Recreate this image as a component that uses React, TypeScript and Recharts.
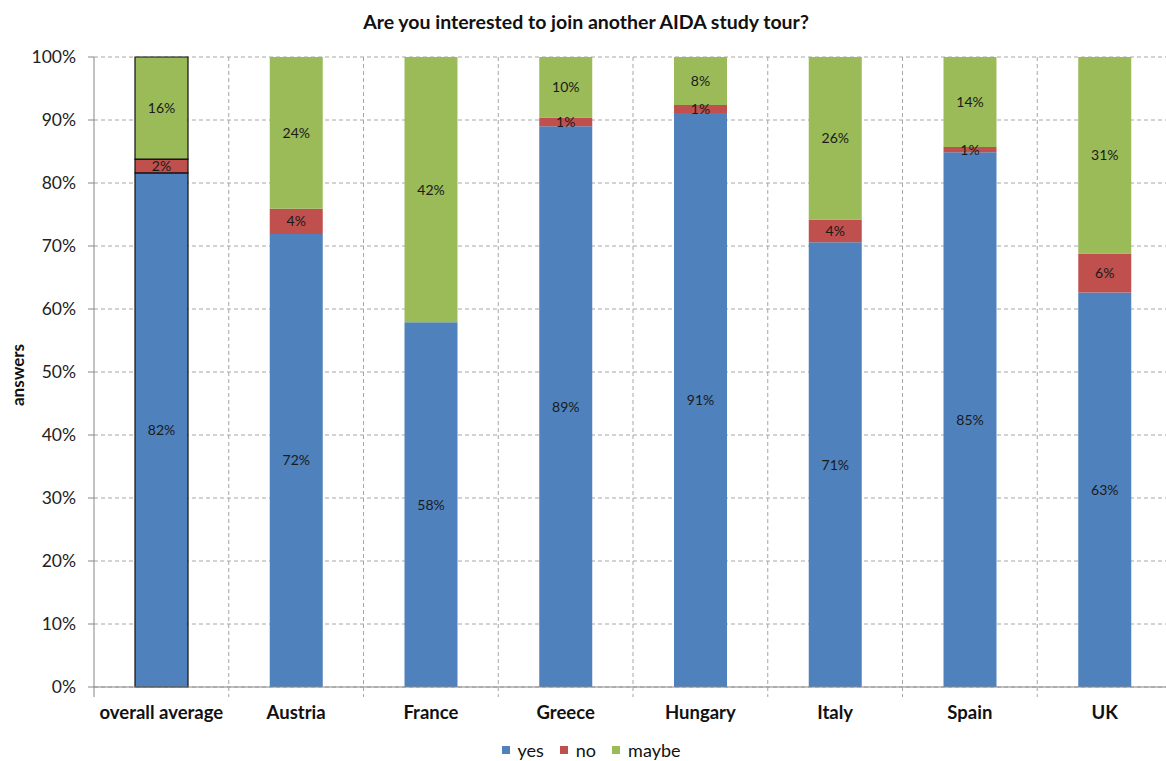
import { Bar, BarChart, CartesianGrid, Cell, LabelList, XAxis, YAxis } from 'recharts';

const categories = ['overall average', 'Austria', 'France', 'Greece', 'Hungary', 'Italy', 'Spain', 'UK'];
const yesValues = [81.6, 71.9, 57.9, 89.0, 91.1, 70.6, 84.9, 62.6];
const noValues = [2.2, 4.0, 0, 1.4, 1.3, 3.6, 0.8, 6.2];
const maybeValues = [16.2, 24.1, 42.1, 9.6, 7.6, 25.8, 14.3, 31.2];
const yTicks = [0, 10, 20, 30, 40, 50, 60, 70, 80, 90, 100];

const series = [
  { key: 'yes', color: '#4F81BD' },
  { key: 'no', color: '#C0504D' },
  { key: 'maybe', color: '#9BBB59' },
];

const data = categories.map((name, i) => ({
  name,
  yes: yesValues[i],
  no: noValues[i],
  maybe: maybeValues[i],
}));

const FONT = 'Lato, "Open Sans", sans-serif';
const AXIS = '#868686';
const GRID = '#A6A6A6';

const pct = (v: unknown) => {
  const n = Number(v);
  return n > 0 ? `${Math.round(n)}%` : '';
};

// category tick: bold label + boundary tick marks between bands
function XTick(props: any) {
  const { x, y, payload, index } = props;
  const step = (1172 - 94) / categories.length;
  return (
    <g>
      <line x1={x - step / 2} x2={x - step / 2} y1={y} y2={y + 10} stroke={index === 0 ? AXIS : GRID} strokeDasharray={index === 0 ? undefined : '4 3'} />
      {index === categories.length - 1 && (
        <line x1={x + step / 2} x2={x + step / 2} y1={y} y2={y + 10} stroke={GRID} strokeDasharray="4 3" />
      )}
      <text x={x} y={y + 32} textAnchor="middle" fontFamily={FONT} fontWeight={700} fontSize={18.5} fill="#111">
        {payload.value}
      </text>
    </g>
  );
}

export default function App() {
  return (
    <div style={{ position: 'absolute', left: 0, top: 0, width: 1166, height: 761, overflow: 'hidden', background: '#fff', fontFamily: FONT }}>
      <div style={{ position: 'absolute', left: 0, width: 1172, top: 10, textAlign: 'center', fontSize: 19.5, fontWeight: 700, color: '#111' }}>
        Are you interested to join another AIDA study tour?
      </div>
      <div
        style={{
          position: 'absolute',
          left: 17,
          top: 375,
          transform: 'translate(-50%, -50%) rotate(-90deg)',
          fontSize: 17,
          fontWeight: 700,
          color: '#111',
        }}
      >
        answers
      </div>
      <BarChart width={1180} height={761} data={data} margin={{ top: 57, right: 8, left: 34, bottom: 34 }} barSize={53}>
        <CartesianGrid
          stroke={GRID}
          strokeDasharray="4 3"
          verticalCoordinatesGenerator={(p: any) => {
            const o = p.offset;
            return categories.map((_, i) => o.left + ((i + 1) * o.width) / categories.length);
          }}
        />
        <XAxis
          dataKey="name"
          type="category"
          height={40}
          tickSize={0}
          tickMargin={0}
          tickLine={false}
          axisLine={{ stroke: AXIS }}
          tick={<XTick />}
          interval={0}
        />
        <YAxis
          type="number"
          width={60}
          domain={[0, 100]}
          ticks={yTicks}
          interval={0}
          tickFormatter={(v: number) => `${v}%`}
          tickSize={6}
          tickMargin={12}
          axisLine={{ stroke: AXIS }}
          tickLine={{ stroke: AXIS }}
          tick={{ fontSize: 17.5, fill: '#222', fontFamily: FONT }}
        />
        {series.map((s) => (
          <Bar key={s.key} dataKey={s.key} stackId="a" fill={s.color} isAnimationActive={false}>
            {data.map((d, i) => (
              <Cell key={d.name} fill={s.color} stroke={i === 0 ? '#111' : 'none'} strokeWidth={i === 0 ? 1.2 : 0} />
            ))}
            <LabelList dataKey={s.key} position="center" formatter={pct} fill="#1a1a1a" fontSize={14} fontFamily={FONT} />
          </Bar>
        ))}
      </BarChart>
      <div style={{ position: 'absolute', top: 739, left: 0, width: 1182, display: 'flex', justifyContent: 'center', gap: 16, fontSize: 18, color: '#111' }}>
        {series.map((s) => (
          <div key={s.key} style={{ display: 'flex', alignItems: 'center', gap: 8 }}>
            <span style={{ width: 8, height: 8, background: s.color, display: 'inline-block' }} />
            <span>{s.key}</span>
          </div>
        ))}
      </div>
    </div>
  );
}
